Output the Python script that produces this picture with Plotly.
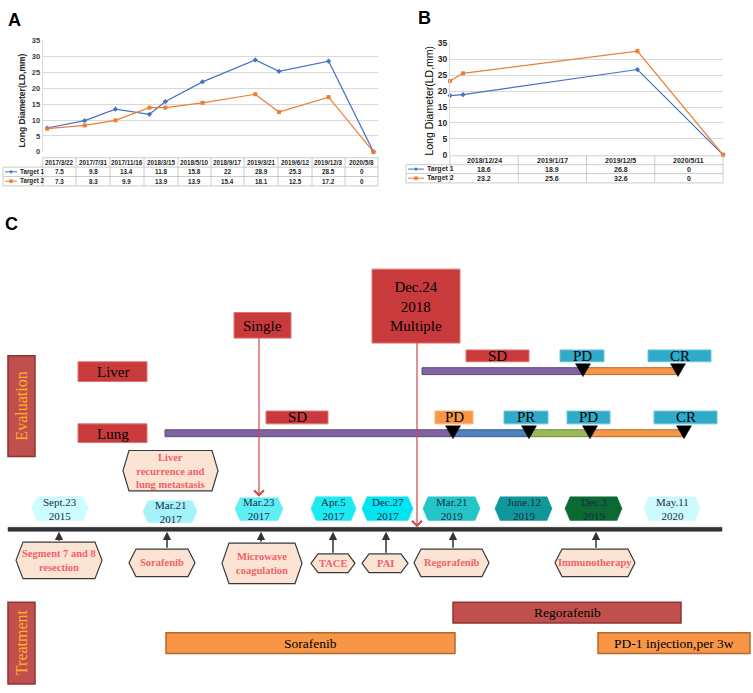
import plotly.graph_objects as go

# ---------------- data ----------------
# panel A
dates_a = ['2017-03-22', '2017-07-31', '2017-11-16', '2018-03-15', '2018-05-10',
           '2018-09-17', '2019-03-21', '2019-06-12', '2019-12-03', '2020-05-08']
labels_a = ['2017/3/22', '2017/7/31', '2017/11/16', '2018/3/15', '2018/5/10',
            '2018/9/17', '2019/3/21', '2019/6/12', '2019/12/3', '2020/5/8']
target1_a = [7.5, 9.8, 13.4, 11.8, 15.8, 22, 28.9, 25.3, 28.5, 0]
target2_a = [7.3, 8.3, 9.9, 13.9, 13.9, 15.4, 18.1, 12.5, 17.2, 0]

# panel B
dates_b = ['2018-12-24', '2019-01-17', '2019-12-05', '2020-05-11']
labels_b = ['2018/12/24', '2019/1/17', '2019/12/5', '2020/5/11']
target1_b = [18.6, 18.9, 26.8, 0]
target2_b = [23.2, 25.6, 32.6, 0]

# panel C
visit_dates = ['Sept.23<br>2015', 'Mar.21<br>2017', 'Mar.23<br>2017', 'Apr.5<br>2017', 'Dec.27<br>2017',
               'Mar.21<br>2019', 'June.12<br>2019', 'Dec.3<br>2019', 'May.11<br>2020']
visit_colors = ['#CCFDFF', '#A4F3F9', '#5FEEF5', '#1CEAF3', '#00E5EF',
                '#22C6C9', '#0F9799', '#0B6A33', '#CCFBFE']
treatments = ['Segment 7 and 8<br>resection', 'Sorafenib', 'Microwave<br>coagulation', 'TACE', 'PAI',
              'Regorafenib', 'Immunotherapy']
liver_status = ['SD', 'PD', 'CR']
lung_status = ['SD', 'PD', 'PR', 'PD', 'CR']
drug_courses = ['Regorafenib', 'Sorafenib', 'PD-1 injection,per 3w']

# ---------------- layout helpers ----------------
W, H = 753, 693
SERIF = 'Liberation Serif, Times New Roman, serif'
SANS = 'Liberation Sans, Arial, sans-serif'
BLUE, ORANGE = '#4472C4', '#ED7D31'
RED, RED_LINE = '#C93A3C', '#DE7474'
CYAN, CYAN_LINE = '#2FAAC8', '#6CC6DC'
PURPLE, BAR_ORANGE, BAR_BLUE, GREEN = '#8064A2', '#F79646', '#4F81BD', '#9BBB59'

shapes, annos = [], []


def X(px):
    return px / W


def Y(py):
    return 1 - py / H


def rect(x0, y0, x1, y1, fill, line, lw=1):
    shapes.append(dict(type='rect', xref='paper', yref='paper', x0=X(x0), x1=X(x1),
                       y0=Y(y1), y1=Y(y0), fillcolor=fill, line=dict(color=line, width=lw)))


def seg(x0, y0, x1, y1, color, lw=1):
    shapes.append(dict(type='line', xref='paper', yref='paper', x0=X(x0), x1=X(x1),
                       y0=Y(y0), y1=Y(y1), line=dict(color=color, width=lw)))


def poly(pts, fill, line, lw=1):
    d = 'M' + 'L'.join(f'{X(a):.5f},{Y(b):.5f}' for a, b in pts) + 'Z'
    shapes.append(dict(type='path', xref='paper', yref='paper', path=d,
                       fillcolor=fill, line=dict(color=line, width=lw)))


def hexagon(x0, x1, y0, y1, d, fill, line, lw=1):
    ym = (y0 + y1) / 2
    poly([(x0, ym), (x0 + d, y0), (x1 - d, y0), (x1, ym), (x1 - d, y1), (x0 + d, y1)], fill, line, lw)


def text(x, y, s, size, color='black', family=SERIF, bold=False, angle=0, xanchor='center'):
    annos.append(dict(xref='paper', yref='paper', x=X(x), y=Y(y), text=s, showarrow=False,
                      xanchor=xanchor, yanchor='middle', textangle=angle,
                      font=dict(size=size, color=color, family=family,
                                weight='bold' if bold else 'normal')))


def arrow(x, y_tip, y_tail, color, head, width, size):
    annos.append(dict(xref='paper', yref='paper', x=X(x), y=Y(y_tip), ax=0, ay=y_tail - y_tip,
                      text='', showarrow=True, arrowhead=head, arrowwidth=width, arrowsize=size,
                      arrowcolor=color, standoff=0, startstandoff=0))


def data_table(x_edges, rows_y, labels, t1, t2, leg_x0, size, line_len):
    grid = '#BFBFBF'
    seg(x_edges[0], rows_y[0], x_edges[-1], rows_y[0], grid, 0.8)
    for yy in rows_y[1:]:
        seg(leg_x0, yy, x_edges[-1], yy, grid, 0.8)
    for xx in x_edges:
        seg(xx, rows_y[0], xx, rows_y[-1], grid, 0.8)
    seg(leg_x0, rows_y[1], leg_x0, rows_y[-1], grid, 0.8)
    for i, lab in enumerate(labels):
        cx = (x_edges[i] + x_edges[i + 1]) / 2
        text(cx, (rows_y[0] + rows_y[1]) / 2, lab, size, '#262626', SANS, True)
        text(cx, (rows_y[1] + rows_y[2]) / 2, str(t1[i]), size, '#262626', SANS, True)
        text(cx, (rows_y[2] + rows_y[3]) / 2, str(t2[i]), size, '#262626', SANS, True)
    for r, (name, col) in enumerate([('Target 1', BLUE), ('Target 2', ORANGE)]):
        cy = (rows_y[r + 1] + rows_y[r + 2]) / 2
        lx0, lx1 = leg_x0 + 2, leg_x0 + 2 + line_len
        seg(lx0, cy, lx1, cy, col, 1)
        mx = (lx0 + lx1) / 2
        if r == 0:
            poly([(mx - 1.6, cy), (mx, cy - 1.6), (mx + 1.6, cy), (mx, cy + 1.6)], col, col, 0.5)
        else:
            rect(mx - 1.5, cy - 1.5, mx + 1.5, cy + 1.5, col, col, 0.5)
        text(lx1 + 1, cy, name, size, '#262626', SANS, True, xanchor='left')


# ---------------- panels A and B ----------------
fig = go.Figure()
for xs, ys, col, sym, ax in [(dates_a, target1_a, BLUE, 'diamond', ('x', 'y')),
                             (dates_a, target2_a, ORANGE, 'square', ('x', 'y')),
                             (dates_b, target1_b, BLUE, 'diamond', ('x2', 'y2')),
                             (dates_b, target2_b, ORANGE, 'square', ('x2', 'y2'))]:
    fig.add_trace(go.Scatter(x=xs, y=ys, mode='lines+markers', xaxis=ax[0], yaxis=ax[1],
                             line=dict(color=col, width=1.2),
                             marker=dict(symbol=sym, size=4, color=col),
                             cliponaxis=False, showlegend=False, hoverinfo='skip'))

data_table([42.7, 76, 110, 144, 178, 211, 244, 278, 312, 345, 378], [155, 164.5, 174, 183.5],
           labels_a, target1_a, target2_a, 3, 6.3, 12)
data_table([450, 518.25, 586.5, 654.75, 723], [153, 162, 171, 180.5],
           labels_b, target1_b, target2_b, 406, 7, 16)

text(14, 15, 'A', 18, 'black', SANS, True)
text(424, 13, 'B', 18, 'black', SANS, True)
text(11, 222, 'C', 18, 'black', SANS, True)
text(22, 97, 'Long Diameter(LD,mm)', 8.5, '#262626', SANS, True, angle=-90)
text(429, 97, 'Long Diameter(LD,mm)', 10.5, 'black', SANS, False, angle=-90)

# ---------------- panel C ----------------
# side labels
rect(8, 356, 35, 458, '#C0504D', '#8E3331', 1.5)
text(21.5, 407, 'Evaluation', 16, '#FFB21E', angle=-90)
rect(8, 606, 35, 689, '#C0504D', '#8E3331', 1.5)
text(21.5, 647, 'Treatment', 16, '#FFB21E', angle=-90)

# organ labels and tumour-count boxes
rect(78, 362, 147, 382, RED, RED_LINE)
text(112.5, 372.5, 'Liver', 15)
rect(78, 425, 147, 444, RED, RED_LINE)
text(112.5, 435, 'Lung', 15)
rect(234, 312, 291, 338, RED, RED_LINE)
text(262.5, 325.5, 'Single', 15)
rect(372, 268, 460, 343, RED, RED_LINE)
text(416, 306, 'Dec.24<br>2018<br>Multiple', 15)

# response bars
liver_bars = [(422, 583, PURPLE, '#5F497A'), (583, 678, BAR_ORANGE, '#B5682D')]
lung_bars = [(165, 453, PURPLE, '#5F497A'), (453, 529, BAR_BLUE, '#385D8A'),
             (529, 590, GREEN, '#71893F'), (590, 684, BAR_ORANGE, '#B5682D')]
for x0, x1, c, lc in liver_bars:
    rect(x0, 368, x1, 375, c, lc, 1)
for x0, x1, c, lc in lung_bars:
    rect(x0, 431, x1, 438, c, lc, 1)

liver_box = [(466, 529, RED, RED_LINE), (560, 604, CYAN, CYAN_LINE), (648, 711, CYAN, CYAN_LINE)]
lung_box = [(266, 328, RED, RED_LINE), (435, 473, BAR_ORANGE, '#F9B37A'), (504, 548, CYAN, CYAN_LINE),
            (567, 610, CYAN, CYAN_LINE), (654, 717, CYAN, CYAN_LINE)]
for (x0, x1, c, lc), s in zip(liver_box, liver_status):
    rect(x0, 350, x1, 362, c, lc)
    text((x0 + x1) / 2, 356.5, s, 15)
for (x0, x1, c, lc), s in zip(lung_box, lung_status):
    rect(x0, 412, x1, 425, c, lc)
    text((x0 + x1) / 2, 418.5, s, 15)

for tx in [583, 678]:
    poly([(tx - 7.5, 364), (tx + 7.5, 364), (tx, 377)], 'black', 'black', 0.5)
for tx in [453, 529, 590, 684]:
    poly([(tx - 7.5, 427), (tx + 7.5, 427), (tx, 440)], 'black', 'black', 0.5)

# main timeline
rect(8, 530, 722, 534, '#333333', '#333333', 0.5)

# visit dates above the line
visit_box = [(32, 88, 499, 523), (143, 197, 503, 525), (235, 283, 500, 523), (311, 356, 499, 523),
             (362, 413, 499, 523), (423, 480, 499, 523), (495, 552, 499, 523), (565, 622, 499, 523),
             (644, 700, 499, 523)]
for (x0, x1, y0, y1), s, c in zip(visit_box, visit_dates, visit_colors):
    hexagon(x0, x1, y0, y1, 5, c, c, 0.5)
    text((x0 + x1) / 2, (y0 + y1) / 2, s, 11, '#1C2B45')

# event hexagon above
hexagon(123, 218, 452, 493, 6, '#FCE4D4', '#3A3A3A', 1.2)
text(170.5, 472.5, 'Liver<br>recurrence and<br>lung metastasis', 10.5, '#F2606B', bold=True)

# treatments below the line
treat_box = [(16, 102, 545, 582), (129, 195, 552, 580), (222, 302, 546, 587), (311, 355, 557, 576),
             (362, 408, 557, 576), (414, 489, 552, 580), (555, 635, 552, 580)]
treat_arrow_x = [59, 167, 261, 333, 386, 453, 596]
for (x0, x1, y0, y1), s, ax in zip(treat_box, treatments, treat_arrow_x):
    hexagon(x0, x1, y0, y1, 7, '#FCE4D4', '#3A3A3A', 1.2)
    text((x0 + x1) / 2, (y0 + y1) / 2, s, 10.5, '#F2606B', bold=True)
    arrow(ax, 534.5, y0, '#333333', 2, 1.5, 1.1)

# red pointers from Single / Multiple
arrow(259, 499, 338, '#D0494B', 4, 1.2, 1.6)
arrow(417, 530, 343, '#D0494B', 4, 1.2, 1.6)

# drug courses
course_box = [(453, 681, 606, 627, '#C0504D', '#8E3331'), (166, 455, 637, 658, BAR_ORANGE, '#B5682D'),
              (598, 750, 637, 658, BAR_ORANGE, '#B5682D')]
for (x0, x1, y0, y1, c, lc), s in zip(course_box, drug_courses):
    rect(x0, y0, x1, y1, c, lc, 1.5)
    text((x0 + x1) / 2, (y0 + y1) / 2, s, 13.5)

axis_common = dict(zeroline=False, fixedrange=True)
fig.update_layout(
    width=W, height=H, margin=dict(l=0, r=0, t=0, b=0),
    paper_bgcolor='white', plot_bgcolor='white',
    xaxis=dict(domain=[X(42.7), X(378)], type='date', range=['2017-03-06', '2020-05-24'],
               showticklabels=False, showgrid=False, ticks='', anchor='y', **axis_common),
    yaxis=dict(domain=[Y(149), Y(36)], range=[0, 35], dtick=5, gridcolor='#D9D9D9',
               showline=True, linecolor='#D9D9D9', anchor='x', ticks='',
               tickfont=dict(size=7.5, family=SANS, color='#404040', weight='bold'), **axis_common),
    xaxis2=dict(domain=[X(450), X(723)], type='date', range=['2018-12-24', '2020-05-11'],
                showticklabels=False, showgrid=False, ticks='', anchor='y2', **axis_common),
    yaxis2=dict(domain=[Y(152), Y(39)], range=[0, 35], dtick=5, gridcolor='#D9D9D9',
                showline=True, linecolor='#D9D9D9', anchor='x2', ticks='',
                tickfont=dict(size=8.5, family=SANS, color='#262626', weight='bold'), **axis_common),
    shapes=shapes, annotations=annos,
)

# the page body has a default 8px margin; drop it so the figure sits at the window origin
fig.write_html('out.html', config={'displayModeBar': False},
               post_script="document.body.style.margin='0';")
